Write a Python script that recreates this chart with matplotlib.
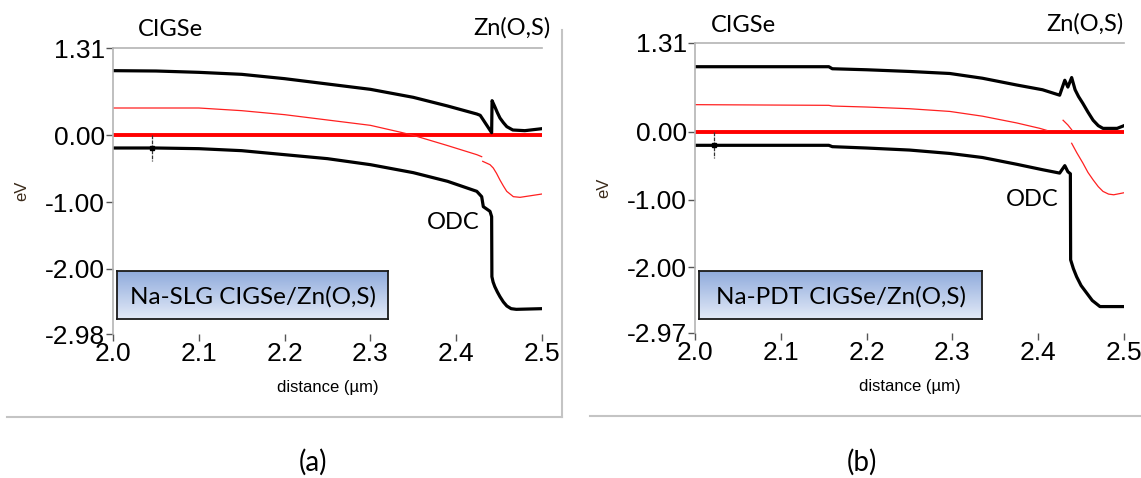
import matplotlib.pyplot as plt
import numpy as np
from matplotlib.colors import LinearSegmentedColormap
from matplotlib.lines import Line2D

W, H = 1141, 478
nan = np.nan

# panel (a): Na-SLG CIGSe/Zn(O,S)
x_a_cb = [2.000, 2.050, 2.100, 2.150, 2.200, 2.250, 2.300, 2.350, 2.390, 2.424,
          2.428, 2.4316, 2.4413, 2.4418, 2.445, 2.448, 2.451, 2.455, 2.459, 2.466,
          2.480, 2.500]
cb_a = [0.97, 0.965, 0.945, 0.915, 0.85, 0.77, 0.69, 0.57, 0.44, 0.32,
        0.30, 0.23, 0.04, 0.52, 0.43, 0.34, 0.26, 0.19, 0.13, 0.08,
        0.07, 0.10]
x_a_vb = [2.000, 2.050, 2.100, 2.150, 2.200, 2.250, 2.300, 2.350, 2.390, 2.424,
          2.4297, 2.4316, 2.4394, 2.4413, 2.4416, 2.4430, 2.4450, 2.4480, 2.4510,
          2.4550, 2.4590, 2.4640, 2.4700, 2.500]
vb_a = [-0.19, -0.19, -0.20, -0.23, -0.29, -0.35, -0.44, -0.56, -0.69, -0.84,
        -0.92, -1.07, -1.14, -1.22, -2.12, -2.20, -2.27, -2.35, -2.42,
        -2.50, -2.56, -2.60, -2.61, -2.60]
x_a_ei = [2.000, 2.100, 2.150, 2.200, 2.250, 2.300, 2.334, 2.350, 2.389, 2.424, 2.4297,
          nan, 2.4309, 2.4394, 2.4432, 2.447, 2.451, 2.455, 2.4589, 2.4666, 2.4744, 2.500]
ei_a = [0.41, 0.41, 0.37, 0.31, 0.23, 0.15, 0.05, 0.00, -0.15, -0.29, -0.32,
        nan, -0.39, -0.44, -0.49, -0.57, -0.67, -0.76, -0.84, -0.92, -0.93, -0.88]
cursor_a = 2.045

# panel (b): Na-PDT CIGSe/Zn(O,S)
x_b_cb = [2.000, 2.156, 2.160, 2.200, 2.250, 2.297, 2.335, 2.375, 2.405, 2.425, 2.431,
          2.4346, 2.439, 2.443, 2.447, 2.452, 2.458, 2.464, 2.470, 2.4755, 2.492, 2.500]
cb_b = [0.96, 0.96, 0.93, 0.915, 0.89, 0.86, 0.79, 0.69, 0.62, 0.54, 0.76,
        0.66, 0.80, 0.62, 0.52, 0.42, 0.29, 0.17, 0.09, 0.05, 0.05, 0.09]
x_b_vb = [2.000, 2.156, 2.160, 2.200, 2.250, 2.297, 2.335, 2.375, 2.405, 2.425, 2.431,
          2.4346, 2.4375, 2.4378, 2.4410, 2.4448, 2.450, 2.4565, 2.463, 2.472, 2.500]
vb_b = [-0.20, -0.20, -0.22, -0.24, -0.27, -0.32, -0.38, -0.48, -0.56, -0.61, -0.50,
        -0.59, -0.62, -1.89, -2.02, -2.14, -2.27, -2.38, -2.49, -2.58, -2.58]
x_b_ei = [2.000, 2.156, 2.160, 2.200, 2.250, 2.297, 2.335, 2.375, 2.402, 2.410, nan,
          2.429, 2.4346, 2.439, nan,
          2.439, 2.445, 2.452, 2.458, 2.464, 2.470, 2.4755, 2.482, 2.488, 2.500]
ei_b = [0.40, 0.39, 0.38, 0.365, 0.34, 0.30, 0.23, 0.13, 0.05, 0.02, nan,
        0.17, 0.10, 0.03, nan,
        -0.17, -0.31, -0.46, -0.60, -0.71, -0.81, -0.88, -0.92, -0.93, -0.90]
cursor_b = 2.022

x_ticks = [2.0, 2.1, 2.2, 2.3, 2.4, 2.5]
y_ticks_a = [-2.98, -2.00, -1.00, 0.00, 1.31]
y_ticks_b = [-2.97, -2.00, -1.00, 0.00, 1.31]
box_labels = ["Na-SLG CIGSe/Zn(O,S)", "Na-PDT CIGSe/Zn(O,S)"]

TICK_FONT = ["Liberation Sans Narrow", "Liberation Sans"]
TEXT_FONT = ["Lato", "DejaVu Sans"]


def fx(px):
    return px / W


def fy(py):
    return 1 - py / H


fig = plt.figure(figsize=(W / 100, H / 100), dpi=100)


def panel(rect, x_cb, cb, x_vb, vb, x_ei, ei, cursor, y_ticks, odc_xy):
    ax = fig.add_axes(rect)
    ax.plot([2.0, 2.5], [0, 0], color="#ff0000", lw=2.8, solid_capstyle="butt")
    ax.plot(x_ei, ei, color="#ff2020", lw=0.9)
    ax.plot(x_cb, cb, color="black", lw=2.3, solid_joinstyle="round")
    ax.plot(x_vb, vb, color="black", lw=2.3, solid_joinstyle="round")
    # cursor marker on the valence band
    vb_at = np.interp(cursor, x_vb, vb)
    ax.plot([cursor, cursor], [0.0, -0.38], color="#333333", lw=0.9, ls=(0, (3, 1)))
    ax.plot([cursor], [vb_at], marker="s", ms=2.5, color="black")
    ax.set_xlim(2.0, 2.5)
    ax.set_ylim(y_ticks[0], y_ticks[-1])
    ax.set_xticks(x_ticks)
    ax.set_xticklabels([f"{t:.1f}" for t in x_ticks], family=TICK_FONT, fontsize=19)
    ax.set_yticks(y_ticks)
    ax.set_yticklabels([f"{t:.2f}" for t in y_ticks], family=TICK_FONT, fontsize=19)
    ax.tick_params(axis="both", length=5, width=1, color="#555555", pad=1)
    ax.spines["right"].set_visible(False)
    ax.spines["bottom"].set_visible(False)
    for s in ("left", "top"):
        ax.spines[s].set_color("#b4b4b4")
        ax.spines[s].set_linewidth(1.2)
    ax.set_xlabel("distance (µm)", family=TICK_FONT, fontsize=12, labelpad=10)
    ax.set_ylabel("eV", family=TICK_FONT, fontsize=12, color="#3a2a1a")
    ax.yaxis.set_label_coords(-0.195, 0.5)
    ax.text(odc_xy[0], odc_xy[1], "ODC", family=TEXT_FONT, fontsize=17,
            ha="center", va="center")
    return ax


panel([fx(113), fy(334), fx(542) - fx(113), fy(48) - fy(334)],
      x_a_cb, cb_a, x_a_vb, vb_a, x_a_ei, ei_a, cursor_a, y_ticks_a, (2.396, -1.31))
panel([fx(695), fy(333), fx(1124) - fx(695), fy(43) - fy(333)],
      x_b_cb, cb_b, x_b_vb, vb_b, x_b_ei, ei_b, cursor_b, y_ticks_b, (2.3925, -1.0))

# labels above the plots
for x, y, s in [(170, 30, "CIGSe"), (512, 28, "Zn(O,S)"),
                (743, 25, "CIGSe"), (1085, 24, "Zn(O,S)")]:
    fig.text(fx(x), fy(y), s, family=TEXT_FONT, fontsize=17, ha="center", va="center")

# gradient boxes with sample names
grad = np.linspace(0, 1, 64).reshape(-1, 1)
cmap = LinearSegmentedColormap.from_list("box", ["#8eaadc", "#e3eaf7"])
for (x0, x1), label in zip([(117, 388), (699, 982)], box_labels):
    bx = fig.add_axes([fx(x0), fy(319), fx(x1) - fx(x0), fy(271) - fy(319)])
    bx.imshow(grad, aspect="auto", cmap=cmap, extent=[0, 1, 0, 1])
    bx.set_xticks([])
    bx.set_yticks([])
    for s in bx.spines.values():
        s.set_linewidth(1.3)
        s.set_color("#1a1a1a")
    bx.text(0.5, 0.47, label, family=TEXT_FONT, fontsize=17.5, ha="center", va="center",
            transform=bx.transAxes)

# panel frames
frame = "#c4c4c4"
fig.add_artist(Line2D([fx(561.5), fx(561.5)], [fy(30), fy(417)], color=frame, lw=1.5))
fig.add_artist(Line2D([fx(7), fx(562)], [fy(417), fy(417)], color=frame, lw=1.5))
fig.add_artist(Line2D([fx(590), fx(1141)], [fy(416), fy(416)], color=frame, lw=1.5))

fig.text(fx(313), fy(462), "(a)", family=TEXT_FONT, fontsize=20, ha="center", va="center")
fig.text(fx(862), fy(462), "(b)", family=TEXT_FONT, fontsize=20, ha="center", va="center")

fig.savefig("out.png", dpi=100)
